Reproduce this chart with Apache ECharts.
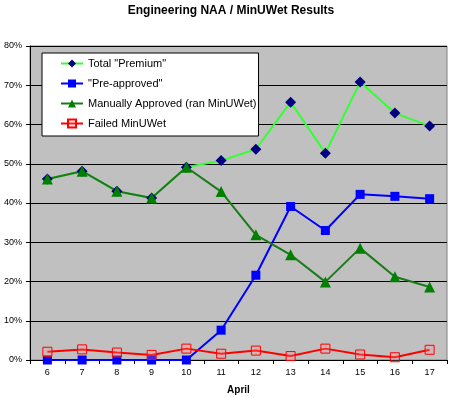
<!DOCTYPE html>
<html>
<head>
<meta charset="utf-8">
<script src="https://cdn.jsdelivr.net/npm/echarts@6/dist/echarts.min.js"></script>
<style>
  html, body { margin: 0; padding: 0; background: #fff; }
  #main { width: 462px; height: 398px; }
</style>
</head>
<body>
<div id="main"></div>
<script>
// 数据
var days = ['6', '7', '8', '9', '10', '11', '12', '13', '14', '15', '16', '17'];
var totalPremium = [46.1, 48.1, 43.0, 41.3, 49.1, 50.8, 53.7, 65.7, 52.7, 70.8, 62.9, 59.6];
var preApproved = [0, 0, 0, 0, 0, 7.6, 21.6, 39.1, 33.0, 42.2, 41.7, 41.1];
var manualApproved = [46.1, 48.1, 43.0, 41.3, 49.1, 42.9, 31.9, 26.8, 19.9, 28.5, 21.2, 18.6];
var failedMinUWet = [2.1, 2.7, 1.9, 1.3, 2.9, 1.6, 2.4, 1.0, 2.9, 1.4, 0.7, 2.6];

var myChart = echarts.init(document.getElementById('main'));

var option = {
    backgroundColor: '#ffffff',
    animation: false,
    textStyle: {
        fontFamily: 'Liberation Sans, Arial, sans-serif'
    },
    title: {
        text: 'Engineering NAA / MinUWet Results',
        left: 'center',
        top: 0,
        textStyle: {
            fontSize: 12,
            fontWeight: 'bold',
            color: '#000'
        }
    },
    legend: {
        orient: 'vertical',
        left: 42,
        top: 53,
        padding: [5, 2, 7, 18],
        itemGap: 9,
        itemWidth: 22,
        itemHeight: 10,
        backgroundColor: '#ffffff',
        borderColor: '#000000',
        borderWidth: 1,
        borderRadius: 0,
        textStyle: {
            fontSize: 11,
            color: '#000'
        },
        data: ['Total "Premium"', '"Pre-approved"', 'Manually Approved (ran MinUWet)', 'Failed MinUWet']
    },
    grid: {
        left: 30,
        right: 15,
        top: 46,
        bottom: 38,
        outerBoundsMode: 'none',
        show: true,
        backgroundColor: '#c0c0c0',
        borderColor: '#808080',
        borderWidth: 1
    },
    xAxis: {
        type: 'category',
        data: days,
        boundaryGap: true,
        name: 'April',
        nameLocation: 'middle',
        nameGap: 25,
        nameTextStyle: {
            fontSize: 10,
            fontWeight: 'bold',
            color: '#000'
        },
        axisLine: { lineStyle: { color: '#000', width: 1 } },
        axisTick: { show: true, length: 4, lineStyle: { color: '#000' } },
        axisLabel: { fontSize: 9, color: '#000', margin: 8 },
        splitLine: { show: false }
    },
    yAxis: {
        type: 'value',
        min: 0,
        max: 80,
        interval: 10,
        axisLine: { show: true, lineStyle: { color: '#000', width: 1 } },
        axisTick: { show: true, length: 4, lineStyle: { color: '#000' } },
        axisLabel: { fontSize: 9, color: '#000', margin: 8, formatter: '{value}%' },
        splitLine: { show: true, lineStyle: { color: '#000', width: 1 } }
    },
    series: [
        {
            name: 'Total "Premium"',
            type: 'line',
            data: totalPremium,
            symbol: 'diamond',
            symbolSize: 11,
            lineStyle: { color: '#33ff33', width: 2 },
            itemStyle: { color: '#000080' }
        },
        {
            name: '"Pre-approved"',
            type: 'line',
            data: preApproved,
            symbol: 'rect',
            symbolSize: 9,
            lineStyle: { color: '#0000ff', width: 2 },
            itemStyle: { color: '#0000ff' }
        },
        {
            name: 'Manually Approved (ran MinUWet)',
            type: 'line',
            data: manualApproved,
            symbol: 'triangle',
            symbolSize: 11,
            lineStyle: { color: '#1a7a1a', width: 2 },
            itemStyle: { color: '#008000' }
        },
        {
            name: 'Failed MinUWet',
            type: 'line',
            data: failedMinUWet,
            symbol: 'rect',
            symbolSize: 9,
            lineStyle: { color: '#ff0000', width: 2 },
            itemStyle: { color: 'rgba(255,150,150,0.25)', borderColor: '#ff0000', borderWidth: 1 }
        }
    ]
};

myChart.setOption(option);
</script>
</body>
</html>
